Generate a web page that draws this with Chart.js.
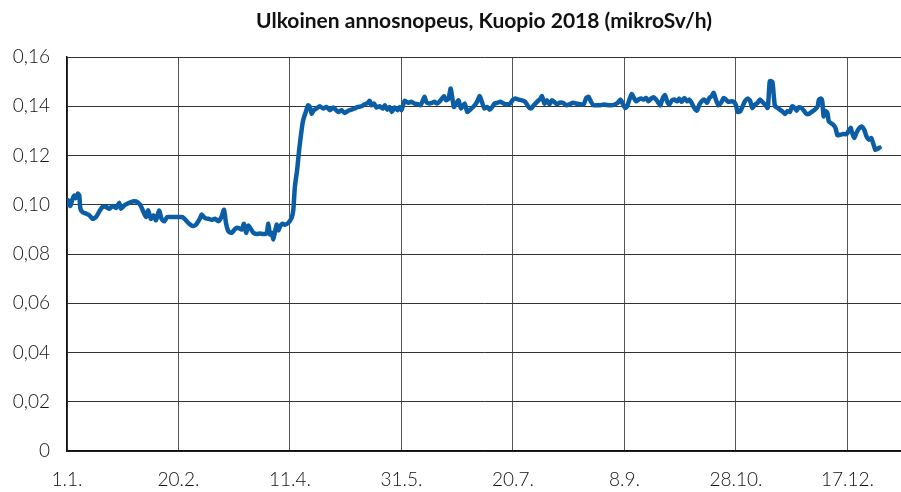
<!DOCTYPE html>
<html lang="fi">
<head>
  <meta charset="UTF-8" />
  <title>Ulkoinen annosnopeus, Kuopio 2018</title>
  <script src="https://cdn.jsdelivr.net/npm/chart.js"></script>
  <style>
    html, body { margin: 0; padding: 0; background: #fff; }
    #wrap { width: 901px; height: 492px; }
  </style>
</head>
<body>
<div id="wrap"><canvas id="chart"></canvas></div>

<script>
  // vuorokauden numero (0 = 1.1.) ja annosnopeus mikroSv/h
  const days = [
    0, 0.6, 1.5, 2.5, 3.3, 4, 4.8, 5.5, 6, 7, 8.5, 10, 11.5, 13, 14.5, 16, 17.5, 19, 20.4, 22,
    23.4, 24.2, 25.7, 27, 28.7, 30, 31.6, 33, 34.3, 35.4, 36.4, 37.6, 38.8, 39.9, 41.3, 42.4, 43.6, 45, 47.3, 49.6,
    51.8, 53.3, 54.8, 56.3, 57.8, 59.7, 60.4, 61.9, 63.4, 64.9, 66.4, 67.9, 69.4, 70.4, 71.3, 72.4, 73.9, 75.4, 76.8, 78.3,
    79.4, 80.3, 81.3, 82.4, 83.6, 85.1, 86.5, 88, 89.5, 90.3, 91, 91.8, 92.5, 93.2, 94, 94.8, 95.5, 96.7, 97.7, 99.2,
    100.7, 101.5, 102.2, 103.2, 104.1, 105.2, 105.9, 107.1, 108.1, 108.9, 109.7, 110.7, 111.9, 113.4, 114.9, 116.4, 117.9, 119.4, 121.6, 123.1,
    124.5, 126, 127.5, 129, 130.5, 132, 133.5, 135, 135.7, 136.5, 137.7, 138.7, 140.2, 141.7, 142.5, 143.7, 144.7, 145.7, 146.9, 148.2,
    149.2, 150, 150.7, 151.4, 152.9, 154.4, 155.9, 157.4, 158.6, 159.6, 160.4, 161.1, 162.6, 163.7, 164.8, 166, 167, 168.1, 169, 170,
    171.1, 172, 172.6, 173.5, 174.5, 175.6, 176.7, 178.3, 179.5, 180.5, 182.1, 183.2, 184.2, 185.1, 186.2, 187.2, 188.4, 189.6, 190.7, 191.7,
    192.9, 194.4, 195.9, 197.3, 198.8, 200, 201.1, 202.5, 204, 205.5, 207, 208.1, 209.3, 210.8, 212.3, 213, 214.1, 215.2, 216.4, 217.5,
    218.5, 219.7, 220.9, 222.4, 223.9, 225.4, 226.9, 228.4, 229.9, 231.7, 232.9, 233.9, 235, 236.2, 237.7, 239.2, 240.6, 242.1, 244, 245.5,
    247, 248.2, 249.3, 250.3, 251.2, 252.2, 253.3, 254.2, 255.2, 256.3, 257.5, 258.7, 259.7, 260.7, 261.9, 263.1, 264.2, 265.2, 266.1, 267.2,
    268.2, 269.1, 270.1, 271.2, 272.4, 273.6, 274.6, 275.7, 276.9, 278.1, 279.1, 280.1, 281.3, 282.5, 283.6, 284.6, 285.8, 287, 288.1, 289.1,
    290, 291, 292.1, 293.3, 294.5, 295.5, 296.6, 297.8, 299, 300, 300.7, 301.9, 303, 304, 305.2, 306.3, 307.3, 308.5, 309.7, 310.7,
    311.8, 313, 314.2, 314.8, 315.2, 316.3, 316.9, 317.5, 318.7, 319.7, 320.7, 321.9, 323.1, 324.2, 325.2, 326.4, 327.2, 328.2, 329.4, 330.6,
    331.6, 332.7, 333.9, 335.4, 336.6, 337.2, 338.1, 338.7, 339.3, 340.1, 341, 341.6, 342.5, 343.6, 344.6, 345.5, 346.6, 348.1, 349.6, 350.6,
    351.5, 352.1, 353, 354, 355.1, 356.3, 357.5, 358.5, 359.6, 360.7, 361.5, 362.5, 363.4, 364.4
  ];
  const values = [
    0.1000, 0.1018, 0.0995, 0.1024, 0.1038, 0.1027, 0.1045, 0.1038, 0.0984, 0.0970, 0.0964, 0.0957, 0.0943, 0.0950, 0.0973, 0.0991, 0.0991, 0.0984, 0.0995, 0.0987,
    0.1008, 0.0984, 0.0997, 0.1004, 0.1011, 0.1014, 0.1011, 0.0997, 0.0970, 0.0950, 0.0977, 0.0943, 0.0957, 0.0937, 0.0977, 0.0943, 0.0933, 0.0950, 0.0950, 0.0950,
    0.0950, 0.0937, 0.0923, 0.0914, 0.0919, 0.0946, 0.0960, 0.0946, 0.0943, 0.0939, 0.0943, 0.0933, 0.0953, 0.0980, 0.0926, 0.0892, 0.0886, 0.0902, 0.0906, 0.0899,
    0.0923, 0.0886, 0.0915, 0.0902, 0.0886, 0.0881, 0.0883, 0.0881, 0.0883, 0.0923, 0.0879, 0.0886, 0.0859, 0.0886, 0.0919, 0.0896, 0.0912, 0.0923, 0.0919, 0.0926,
    0.0946, 0.0980, 0.1074, 0.1141, 0.1222, 0.1303, 0.1343, 0.1377, 0.1404, 0.1397, 0.1370, 0.1384, 0.1391, 0.1400, 0.1391, 0.1397, 0.1384, 0.1395, 0.1377, 0.1384,
    0.1373, 0.1381, 0.1386, 0.1391, 0.1397, 0.1400, 0.1408, 0.1414, 0.1422, 0.1404, 0.1411, 0.1395, 0.1400, 0.1391, 0.1404, 0.1386, 0.1397, 0.1377, 0.1395, 0.1384,
    0.1397, 0.1384, 0.1404, 0.1422, 0.1414, 0.1418, 0.1411, 0.1408, 0.1404, 0.1424, 0.1438, 0.1418, 0.1411, 0.1414, 0.1418, 0.1411, 0.1418, 0.1431, 0.1441, 0.1424,
    0.1431, 0.1472, 0.1445, 0.1397, 0.1411, 0.1424, 0.1391, 0.1411, 0.1377, 0.1384, 0.1397, 0.1408, 0.1424, 0.1441, 0.1414, 0.1391, 0.1397, 0.1386, 0.1397, 0.1411,
    0.1414, 0.1418, 0.1411, 0.1408, 0.1411, 0.1427, 0.1431, 0.1427, 0.1424, 0.1418, 0.1397, 0.1391, 0.1404, 0.1418, 0.1431, 0.1441, 0.1411, 0.1424, 0.1408, 0.1424,
    0.1418, 0.1408, 0.1414, 0.1414, 0.1404, 0.1408, 0.1414, 0.1411, 0.1408, 0.1408, 0.1435, 0.1438, 0.1418, 0.1404, 0.1404, 0.1404, 0.1407, 0.1405, 0.1404, 0.1407,
    0.1414, 0.1427, 0.1409, 0.1393, 0.1400, 0.1427, 0.1450, 0.1434, 0.1420, 0.1427, 0.1431, 0.1427, 0.1434, 0.1420, 0.1431, 0.1437, 0.1427, 0.1414, 0.1404, 0.1434,
    0.1445, 0.1420, 0.1407, 0.1423, 0.1427, 0.1420, 0.1431, 0.1418, 0.1434, 0.1420, 0.1427, 0.1414, 0.1393, 0.1382, 0.1407, 0.1420, 0.1427, 0.1414, 0.1434, 0.1441,
    0.1454, 0.1427, 0.1404, 0.1414, 0.1434, 0.1427, 0.1418, 0.1420, 0.1418, 0.1404, 0.1377, 0.1380, 0.1400, 0.1420, 0.1431, 0.1423, 0.1393, 0.1407, 0.1414, 0.1427,
    0.1418, 0.1407, 0.1393, 0.1461, 0.1502, 0.1499, 0.1448, 0.1400, 0.1393, 0.1386, 0.1380, 0.1369, 0.1380, 0.1377, 0.1400, 0.1393, 0.1382, 0.1396, 0.1393, 0.1380,
    0.1369, 0.1369, 0.1377, 0.1386, 0.1400, 0.1427, 0.1431, 0.1420, 0.1359, 0.1380, 0.1373, 0.1339, 0.1332, 0.1325, 0.1312, 0.1282, 0.1284, 0.1287, 0.1287, 0.1301,
    0.1312, 0.1291, 0.1271, 0.1291, 0.1309, 0.1318, 0.1305, 0.1278, 0.1264, 0.1271, 0.1250, 0.1223, 0.1227, 0.1232
  ];

  // akselien merkinnät
  const xTickDays = [0, 50, 100, 150, 200, 250, 300, 350];
  const xTickLabels = ['1.1.', '20.2.', '11.4.', '31.5.', '20.7.', '8.9.', '28.10.', '17.12.'];
  const yTickValues = [0, 0.02, 0.04, 0.06, 0.08, 0.10, 0.12, 0.14, 0.16];
  const yTickLabels = ['0', '0,02', '0,04', '0,06', '0,08', '0,10', '0,12', '0,14', '0,16'];

  const points = days.map((d, i) => ({ x: d, y: values[i] }));
  const tickFont = { family: 'Lato', size: 19, weight: '300' };

  new Chart(document.getElementById('chart'), {
    type: 'line',
    data: {
      datasets: [{
        data: points,
        borderColor: '#0b5ea6',
        borderWidth: 4.5,
        pointRadius: 0,
        tension: 0.2,
        borderJoinStyle: 'round',
        borderCapStyle: 'round'
      }]
    },
    options: {
      responsive: true,
      maintainAspectRatio: false,
      animation: false,
      layout: { padding: { left: 0, right: 0, top: 0, bottom: 0 } },
      plugins: {
        legend: { display: false },
        tooltip: { enabled: false },
        title: {
          display: true,
          text: 'Ulkoinen annosnopeus, Kuopio 2018 (mikroSv/h)',
          fullSize: false,
          color: '#111',
          font: { family: 'Lato', size: 21, weight: 'bold' },
          padding: { top: 9, bottom: 22.8 }
        }
      },
      scales: {
        x: {
          type: 'linear',
          min: 0,
          max: 374,
          afterBuildTicks: s => { s.ticks = xTickDays.map(v => ({ value: v })); },
          afterFit: s => { s.height = 41; },
          ticks: {
            color: '#111',
            font: tickFont,
            padding: 17,
            maxRotation: 0,
            autoSkip: false,
            callback: v => xTickLabels[xTickDays.indexOf(v)]
          },
          grid: { color: '#555', lineWidth: 1, drawTicks: false },
          border: { color: '#111', width: 1.5 }
        },
        y: {
          min: 0,
          max: 0.16,
          afterBuildTicks: s => { s.ticks = yTickValues.map(v => ({ value: v })); },
          afterFit: s => { s.width = 67; },
          ticks: {
            color: '#111',
            font: tickFont,
            padding: 17,
            callback: (v, i) => yTickLabels[i]
          },
          grid: { color: '#333', lineWidth: 1, drawTicks: false },
          border: { color: '#111', width: 1.5 }
        }
      }
    }
  });
</script>
</body>
</html>
